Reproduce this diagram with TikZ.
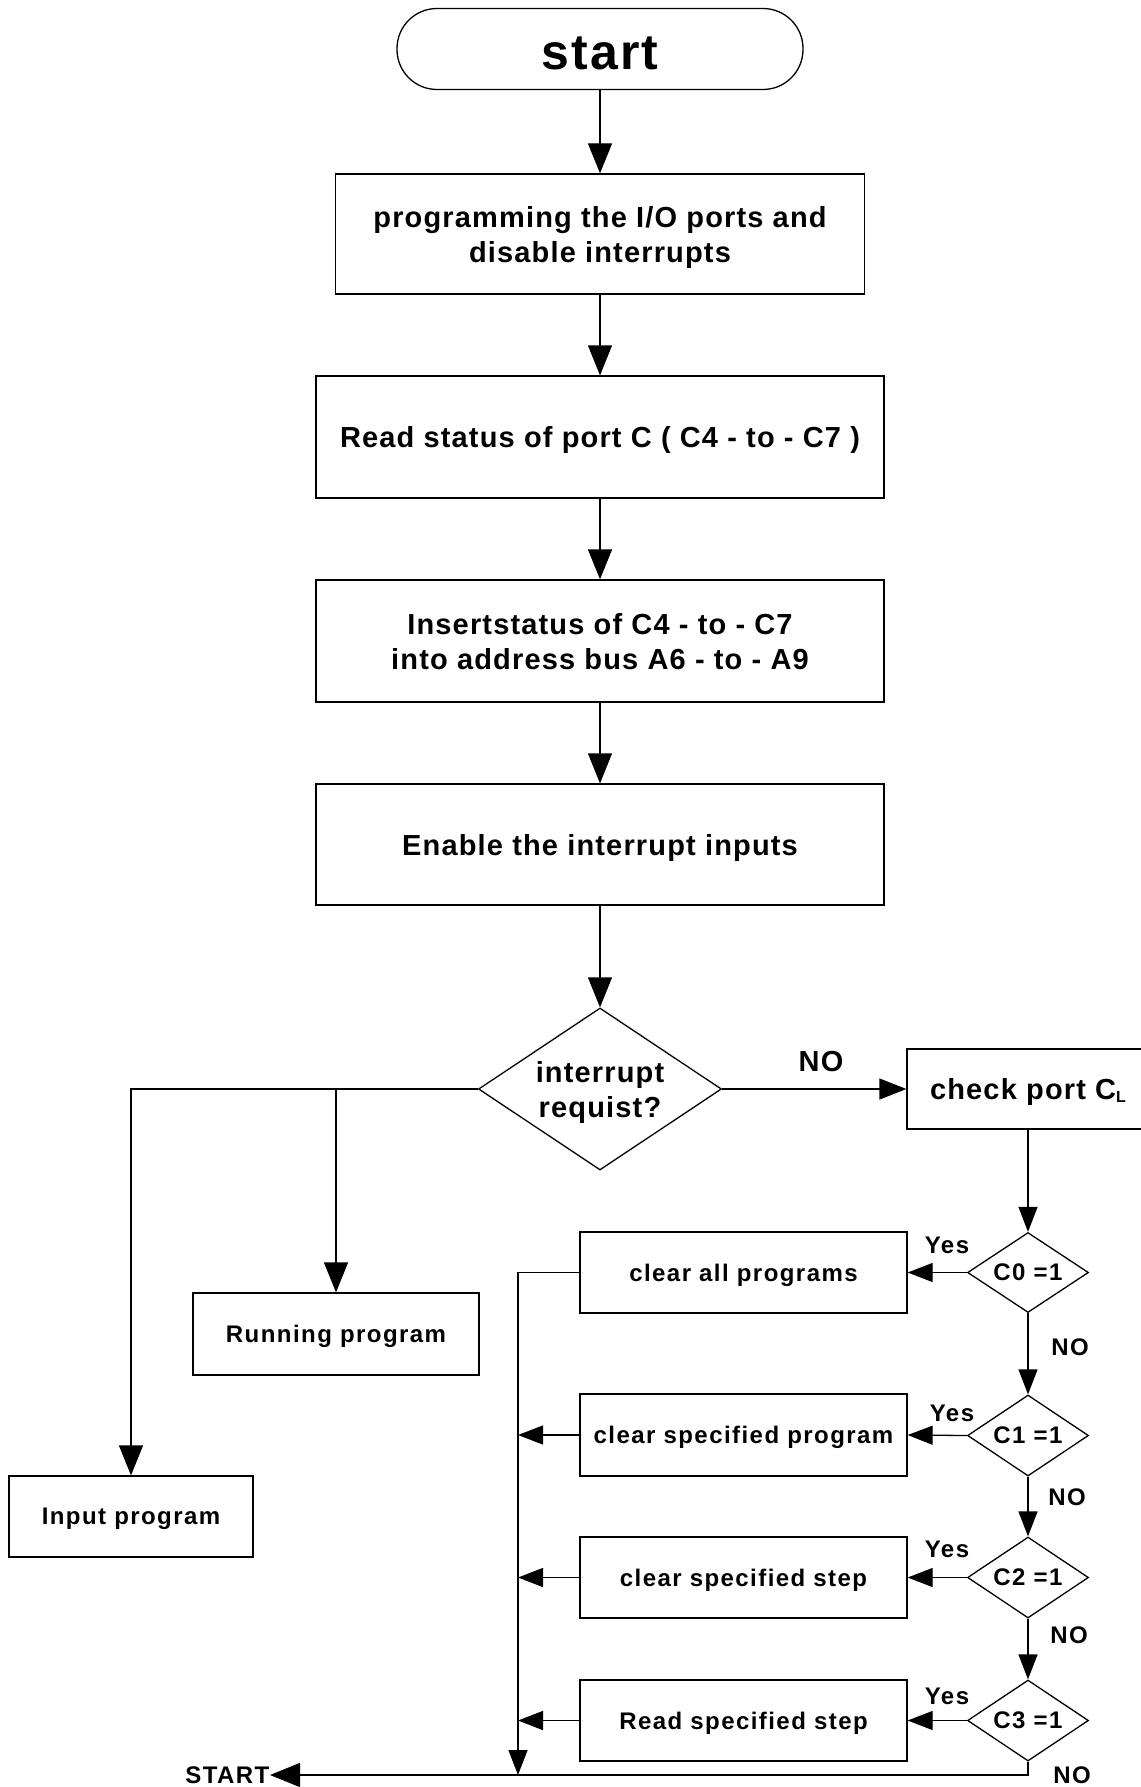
\documentclass[tikz,border=0pt]{standalone}
\usepackage{fontspec}
\setmainfont{Liberation Sans}[LetterSpace=4]
\usetikzlibrary{arrows.meta,shapes.geometric}
\begin{document}
\begin{tikzpicture}[x=1pt,y=-1pt,
  line width=1.3pt,
  bigtxt/.style={font=\fontsize{29}{35}\selectfont\bfseries},
  smalltxt/.style={font=\fontsize{24}{28}\selectfont\bfseries\addfontfeatures{LetterSpace=6}},
  procbox/.style={draw, rectangle, inner sep=0pt, align=center, text depth=0pt},
  decbox/.style={draw, diamond, inner sep=0pt, aspect=1.5, align=center, text depth=0pt},
  bigarrow/.style={-{Triangle[length=30pt,width=24pt]}},
  midarrow/.style={-{Triangle[length=27pt,width=21pt]}},
  smallarrow/.style={-{Triangle[length=25pt,width=19pt]}},
  lbl/.style={inner sep=0pt}
]
\useasboundingbox (0,0) rectangle (1140,1787);

% main sequence
\node[draw, rounded corners=40pt, minimum width=406pt, minimum height=81pt, inner sep=0pt,
      text height=41.5pt, text depth=0pt,
      font=\fontsize{50}{56}\selectfont\bfseries] (start) at (600,49) {start};
\node[procbox, bigtxt, minimum width=529pt, minimum height=120pt] (prog) at (600,234)
  {programming the I/O ports and\\disable interrupts};
\node[procbox, bigtxt, minimum width=568pt, minimum height=122pt] (rdst) at (600,437)
  {Read status of port C ( C4 - to - C7 )};
\node[procbox, bigtxt, minimum width=568pt, minimum height=122pt] (ins) at (600,641)
  {Insertstatus of C4 - to - C7\\into address bus A6 - to - A9};
\node[procbox, bigtxt, minimum width=568pt, minimum height=121pt] (enab) at (600,844.5)
  {Enable the interrupt inputs};
\node[decbox, bigtxt, minimum width=243pt, minimum height=162pt] (dec) at (600,1089)
  {interrupt\\requist?};

% interrupt branches
\node[procbox, smalltxt, minimum width=286pt, minimum height=82pt] (run) at (336,1334) {Running program};
\node[procbox, smalltxt, minimum width=244pt, minimum height=81pt] (inp) at (131,1516.5) {Input program};

% port C_L checks
\node[procbox, bigtxt, minimum width=242pt, minimum height=80pt] (chk) at (1028,1089)
  {check port C\raisebox{-0.12em}{\fontsize{16}{16}\selectfont L}};
\node[decbox, smalltxt, minimum width=121pt, minimum height=80pt] (c0) at (1028,1272.5) {C0 =1};
\node[decbox, smalltxt, minimum width=121pt, minimum height=81pt] (c1) at (1028,1435.5) {C1 =1};
\node[decbox, smalltxt, minimum width=121pt, minimum height=81pt] (c2) at (1028,1577.5) {C2 =1};
\node[decbox, smalltxt, minimum width=121pt, minimum height=81pt] (c3) at (1028,1720.5) {C3 =1};
\node[procbox, smalltxt, minimum width=327pt, minimum height=81pt] (r0) at (743.5,1272.5) {clear all programs};
\node[procbox, smalltxt, minimum width=327pt, minimum height=82pt] (r1) at (743.5,1435) {clear specified program};
\node[procbox, smalltxt, minimum width=327pt, minimum height=81pt] (r2) at (743.5,1577.5) {clear specified step};
\node[procbox, smalltxt, minimum width=327pt, minimum height=81pt] (r3) at (743.5,1720.5) {Read specified step};
\node[smalltxt, lbl, anchor=east] (ret) at (270,1775) {START};
\coordinate (bus) at (518,1775);

% labels
\node[bigtxt, lbl] (ndec) at (821,1062) {NO};
\node[smalltxt, lbl] (y0) at (947,1245) {Yes};
\node[smalltxt, lbl] (y1) at (952,1413) {Yes};
\node[smalltxt, lbl] (y2) at (947,1549) {Yes};
\node[smalltxt, lbl] (y3) at (947,1696) {Yes};
\node[smalltxt, lbl] (n0) at (1070,1347) {NO};
\node[smalltxt, lbl] (n1) at (1067,1497) {NO};
\node[smalltxt, lbl] (n2) at (1069,1635) {NO};
\node[smalltxt, lbl] (n3) at (1072,1775) {NO};

% connectors
\draw[bigarrow] (start.south) -- (prog.north);
\draw[bigarrow] (prog.south) -- (rdst.north);
\draw[bigarrow] (rdst.south) -- (ins.north);
\draw[bigarrow] (ins.south) -- (enab.north);
\draw[bigarrow] (enab.south) -- (dec.north);
\draw[midarrow] (dec.east) -- (chk.west);
\draw[bigarrow] (dec.west) -| (inp.north);
\draw[bigarrow] (run.north |- dec.west) -- (run.north);

\draw[smallarrow] (chk.south -| c0.north) -- (c0.north);
\draw[smallarrow] (c0.south) -- (c1.north);
\draw[smallarrow] (c1.south) -- (c2.north);
\draw[smallarrow] (c2.south) -- (c3.north);
\draw[smallarrow] (c0.west) -- (r0.east);
\draw[smallarrow] (c1.west) -- (r1.east);
\draw[smallarrow] (c2.west) -- (r2.east);
\draw[smallarrow] (c3.west) -- (r3.east);

\draw[smallarrow] (r0.west) -| (bus);
\draw[smallarrow] (r1.west) -- (r1.west -| bus);
\draw[smallarrow] (r2.west) -- (r2.west -| bus);
\draw[smallarrow] (r3.west) -- (r3.west -| bus);
\draw[bigarrow] (c3.south) |- (ret.east);
\end{tikzpicture}
\end{document}
